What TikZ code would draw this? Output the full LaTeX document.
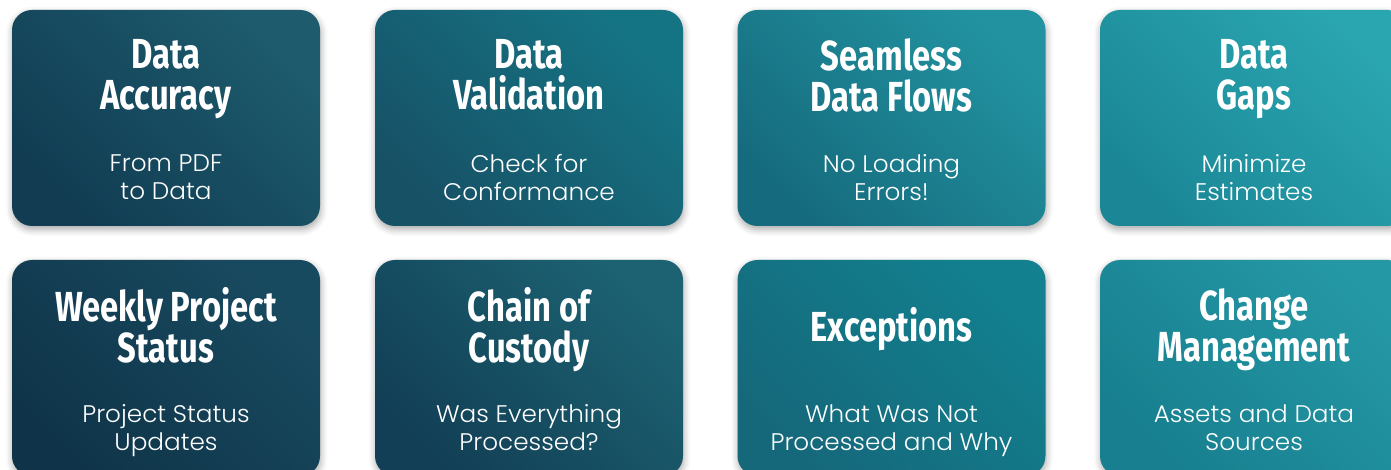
\documentclass[tikz,border=0pt]{standalone}
\usepackage{fontspec}
\usepackage{xcolor}
\usetikzlibrary{positioning,shadows.blur}

\newfontfamily\headfont[FakeStretch=0.78]{Fira Sans}
\newfontfamily\subfont[FakeStretch=1.03]{Poppins Light}
\newcommand\headstrut{\rule[-9pt]{0pt}{27pt}}
\newcommand\substrut{\rule[-5pt]{0pt}{17pt}}

\definecolor{accL}{HTML}{113C52}  \definecolor{accU}{HTML}{1D5B6D}
\definecolor{valL}{HTML}{175166}  \definecolor{valU}{HTML}{157484}
\definecolor{floL}{HTML}{156B7D}  \definecolor{floU}{HTML}{2292A0}
\definecolor{gapL}{HTML}{1B8796}  \definecolor{gapU}{HTML}{2AA6B1}
\definecolor{staL}{HTML}{0F3449}  \definecolor{staU}{HTML}{184A5F}
\definecolor{cusL}{HTML}{123F55}  \definecolor{cusU}{HTML}{1C6272}
\definecolor{excL}{HTML}{15687A}  \definecolor{excU}{HTML}{12808F}
\definecolor{chgL}{HTML}{177F8F}  \definecolor{chgU}{HTML}{2598A5}

\tikzset{
  card/.style 2 args={rounded corners=15pt, minimum width=231pt, minimum height=162pt,
    top color=#2, bottom color=#1, shading angle=-45,
    blur shadow={shadow xshift=0.5pt, shadow yshift=-2.5pt, shadow blur radius=5pt, shadow opacity=35}},
  cardtitle/.style={text=white, align=center, inner sep=0pt,
    font=\headfont\bfseries\fontsize{31.5}{30.75}\selectfont,
    execute at begin node=\headstrut, execute at end node=\headstrut},
  cardsub/.style={text=white, align=center, inner sep=0pt,
    font=\subfont\fontsize{18}{21}\selectfont,
    execute at begin node=\substrut, execute at end node=\substrut}
}

\begin{document}
\begin{tikzpicture}[x=0.75pt,y=-0.75pt]
    \useasboundingbox (0,0) rectangle (1391,470);
    % cards
    \node[card={accL}{accU}] (acc) at (166,118) {};
    \node[card={valL}{valU}] (valid) at (529,118) {};
    \node[card={floL}{floU}] (flows) at (891.5,118) {};
    \node[card={gapL}{gapU}] (gaps) at (1254,118) {};
    \node[card={staL}{staU}] (status) at (166,368) {};
    \node[card={cusL}{cusU}] (custody) at (529,368) {};
    \node[card={excL}{excU}] (except) at (891.5,368) {};
    \node[card={chgL}{chgU}] (change) at (1254,368) {};
    % titles
    \node[cardtitle] (accT) at ([yshift=28pt]acc.center) {Data\\Accuracy};
    \node[cardtitle] (validT) at ([yshift=28pt]valid.center) {Data\\Validation};
    \node[cardtitle] (flowsT) at ([yshift=28pt]flows.center) {Seamless\\Data Flows};
    \node[cardtitle] (gapsT) at ([yshift=28pt]gaps.center) {Data\\Gaps};
    \node[cardtitle] (statusT) at ([yshift=28pt]status.center) {Weekly Project\\Status};
    \node[cardtitle] (custodyT) at ([yshift=28pt]custody.center) {Chain of\\Custody};
    \node[cardtitle] (exceptT) at ([yshift=28pt]except.center) {Exceptions};
    \node[cardtitle] (changeT) at ([yshift=28pt]change.center) {Change\\Management};
    % subtitles
    \node[cardsub] (accS) at ([yshift=-47pt]acc.center) {From PDF\\to Data};
    \node[cardsub] (validS) at ([yshift=-47pt]valid.center) {Check for\\Conformance};
    \node[cardsub] (flowsS) at ([yshift=-47pt]flows.center) {No Loading\\Errors!};
    \node[cardsub] (gapsS) at ([yshift=-47pt]gaps.center) {Minimize\\Estimates};
    \node[cardsub] (statusS) at ([yshift=-47pt]status.center) {Project Status\\Updates};
    \node[cardsub] (custodyS) at ([yshift=-47pt]custody.center) {Was Everything\\Processed?};
    \node[cardsub] (exceptS) at ([yshift=-47pt]except.center) {What Was Not\\Processed and Why};
    \node[cardsub] (changeS) at ([yshift=-47pt]change.center) {Assets and Data\\Sources};
\end{tikzpicture}
\end{document}
